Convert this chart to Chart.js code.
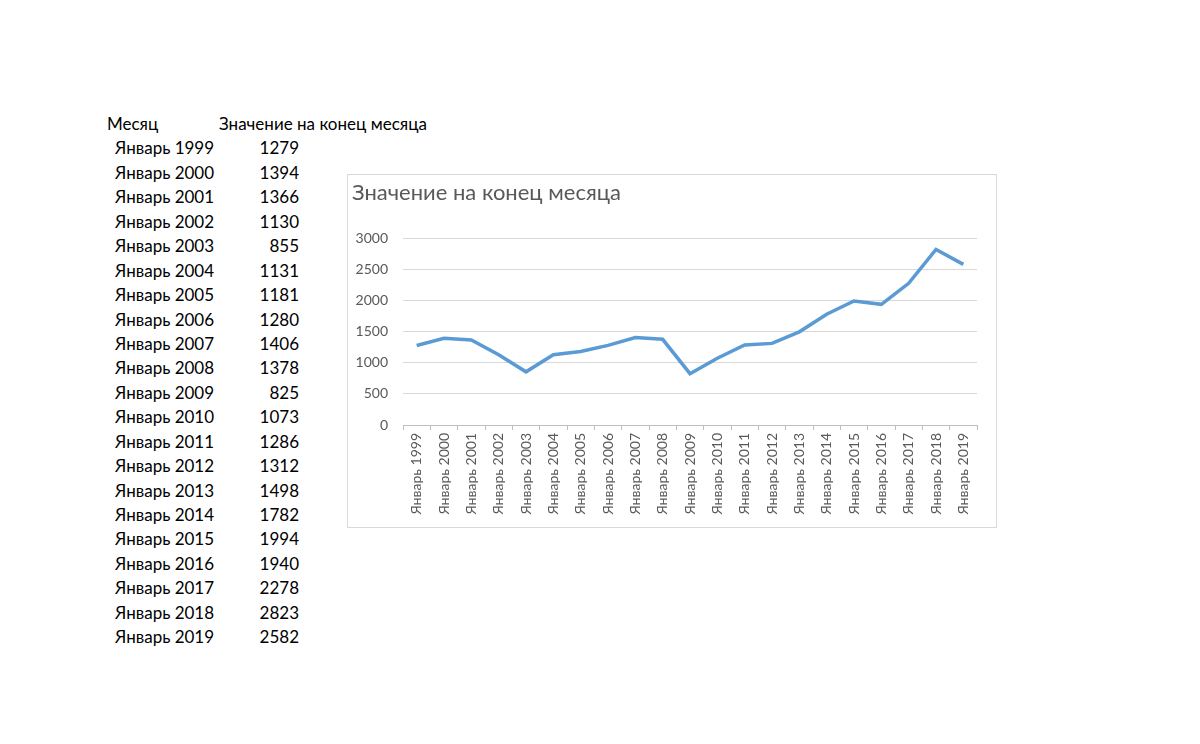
<!DOCTYPE html>
<html>
<head>
<meta charset="utf-8">
<script src="https://cdn.jsdelivr.net/npm/chart.js@4"></script>
<style>
    body { margin: 0; background: #fff; font-family: Lato, "Noto Sans", sans-serif; }
    #page { position: relative; width: 1200px; height: 744px; }
    #table { position: absolute; left: 107px; top: 112px; font-size: 17px; color: #000; }
    #table .row { position: relative; height: 24.45px; line-height: 24.45px; white-space: nowrap; }
    #table .m { position: absolute; left: 8px; }
    #table .v { position: absolute; left: 150px; width: 42px; text-align: right; }
    #table .hm { position: absolute; left: 0; }
    #table .hv { position: absolute; left: 112px; }
    #box { position: absolute; left: 347px; top: 174px; width: 648px; height: 352px; border: 1px solid #d9d9d9; }
</style>
</head>
<body>
<div id="page">
    <div id="table"></div>
    <div id="box"><canvas id="lineChart"></canvas></div>
</div>
<script>
// data
var months = ['Январь 1999', 'Январь 2000', 'Январь 2001', 'Январь 2002', 'Январь 2003', 'Январь 2004',
    'Январь 2005', 'Январь 2006', 'Январь 2007', 'Январь 2008', 'Январь 2009', 'Январь 2010',
    'Январь 2011', 'Январь 2012', 'Январь 2013', 'Январь 2014', 'Январь 2015', 'Январь 2016',
    'Январь 2017', 'Январь 2018', 'Январь 2019'];
var values = [1279, 1394, 1366, 1130, 855, 1131, 1181, 1280, 1406, 1378, 825, 1073,
    1286, 1312, 1498, 1782, 1994, 1940, 2278, 2823, 2582];
var headers = ['Месяц', 'Значение на конец месяца'];
var seriesName = 'Значение на конец месяца';

// table on the left
var table = document.getElementById('table');
var html = '<div class="row"><span class="hm">' + headers[0] + '</span><span class="hv">' + headers[1] + '</span></div>';
for (var i = 0; i < months.length; i++) {
    html += '<div class="row"><span class="m">' + months[i] + '</span><span class="v">' + values[i] + '</span></div>';
}
table.innerHTML = html;

document.addEventListener('DOMContentLoaded', function () {
    var ctx = document.getElementById('lineChart').getContext('2d');
    var lineChart = new Chart(ctx, {
        type: 'line',
        data: {
            labels: months,
            datasets: [{
                label: seriesName,
                data: values,
                borderColor: '#5b9bd5',
                borderWidth: 3.5,
                pointRadius: 0,
                tension: 0,
                fill: false
            }]
        },
        options: {
            responsive: true,
            maintainAspectRatio: false,
            animation: false,
            layout: { padding: { left: 4, right: 19, top: 0, bottom: 0 } },
            plugins: {
                legend: { display: false },
                tooltip: { enabled: false },
                title: {
                    display: true,
                    text: seriesName,
                    align: 'start',
                    color: '#595959',
                    font: { family: 'Lato', size: 22, weight: 'normal' },
                    padding: { top: 5, bottom: 32 }
                }
            },
            scales: {
                x: {
                    offset: true,
                    grid: {
                        display: true,
                        drawOnChartArea: false,
                        drawTicks: true,
                        tickLength: 5,
                        offset: true,
                        color: '#bfbfbf'
                    },
                    border: { display: true, color: '#bfbfbf' },
                    ticks: {
                        autoSkip: false,
                        minRotation: 90,
                        maxRotation: 90,
                        padding: 3,
                        color: '#595959',
                        font: { family: 'Lato', size: 14 }
                    },
                    afterFit: function (scale) { scale.height = 102; }
                },
                y: {
                    min: 0,
                    max: 3000,
                    grid: { color: '#d9d9d9', drawTicks: false },
                    border: { display: false },
                    ticks: {
                        stepSize: 500,
                        padding: 15,
                        color: '#595959',
                        font: { family: 'Lato', size: 14 },
                        callback: function (value) { return String(value); }
                    },
                    afterFit: function (scale) { scale.width = 51; }
                }
            }
        }
    });
});
</script>
</body>
</html>
